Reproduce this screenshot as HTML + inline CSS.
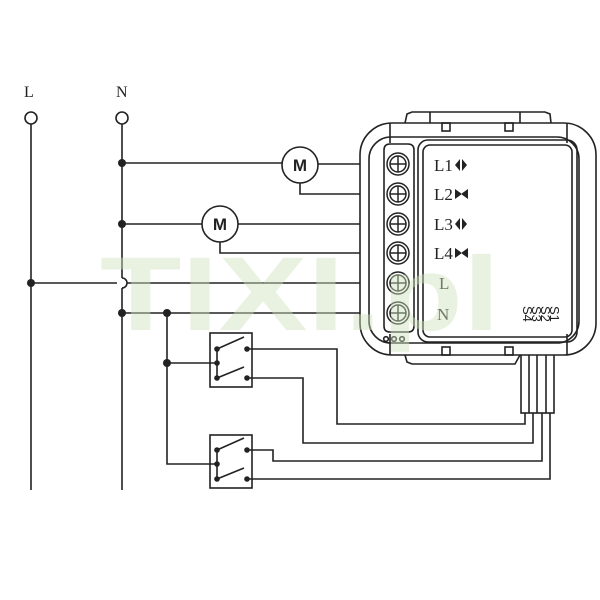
<!DOCTYPE html>
<html><head><meta charset="utf-8"><style>
html,body{margin:0;padding:0;background:#fff;}
svg{display:block;}
text{font-family:"Liberation Serif",serif;fill:#222;}
</style></head><body>
<svg width="600" height="600" viewBox="0 0 600 600" xmlns="http://www.w3.org/2000/svg">
<rect width="600" height="600" fill="#fff"/>
<g stroke="#222" stroke-width="1.6" fill="none">
<!-- L and N -->
<circle cx="31" cy="118" r="6" fill="#fff"/>
<circle cx="122" cy="118" r="6" fill="#fff"/>
<line x1="31" y1="124" x2="31" y2="490"/>
<line x1="122" y1="124" x2="122" y2="278"/>
<path d="M122 278 A5 5 0 0 1 122 288"/>
<line x1="122" y1="288" x2="122" y2="490"/>
<!-- motor wires -->
<line x1="122" y1="163" x2="282" y2="163"/>
<line x1="318" y1="164" x2="396" y2="164"/>
<polyline points="300,183 300,194 396,194"/>
<line x1="122" y1="224" x2="202" y2="224"/>
<line x1="238" y1="224" x2="396" y2="224"/>
<polyline points="220,242 220,253 396,253"/>
<line x1="31" y1="283" x2="117" y2="283"/>
<line x1="127" y1="283" x2="396" y2="283"/>
<line x1="122" y1="313" x2="396" y2="313"/>
<!-- switch common -->
<polyline points="167,313 167,464 217,464"/>
<line x1="167" y1="363" x2="217" y2="363"/>
<!-- switch boxes -->
<rect x="210" y="333" width="42" height="54"/>
<rect x="210" y="435" width="42" height="53"/>
<line x1="217" y1="349" x2="217" y2="378"/>
<line x1="217" y1="349" x2="244" y2="337"/>
<line x1="217" y1="378" x2="244" y2="367"/>
<line x1="217" y1="450" x2="217" y2="479"/>
<line x1="217" y1="450" x2="244" y2="438"/>
<line x1="217" y1="479" x2="244" y2="468"/>
<!-- switch outputs -->
<polyline points="247,349 337,349 337,424 525,424 525,413"/>
<polyline points="247,378 303,378 303,443 533,443 533,413"/>
<polyline points="247,450 273,450 273,461 542,461 542,413"/>
<polyline points="247,479 550,479 550,413"/>
<!-- cable -->
<rect x="521" y="353" width="33" height="60" fill="#fff"/>
<line x1="529" y1="353" x2="529" y2="413"/>
<line x1="537" y1="353" x2="537" y2="413"/>
<line x1="546" y1="353" x2="546" y2="413"/>
<!-- device -->
<path d="M405 123 L407 114 L412 112 L545 112 L550 114 L551 123" fill="#fff"/>
<line x1="430" y1="112" x2="430" y2="123"/><line x1="520" y1="112" x2="520" y2="123"/>
<path d="M405 355 L407 362 L412 364 L515 364 L520 355" fill="#fff"/>
<rect x="360" y="123" width="236" height="232" rx="32" fill="#fff"/>
<line x1="390" y1="123" x2="390" y2="143"/>
<line x1="567" y1="123" x2="567" y2="143"/>
<line x1="390" y1="334" x2="390" y2="355"/>
<line x1="567" y1="334" x2="567" y2="355"/>
<rect x="442" y="123" width="8" height="8"/><rect x="505" y="123" width="8" height="8"/>
<rect x="442" y="347" width="8" height="8"/><rect x="505" y="347" width="8" height="8"/>
<rect x="369" y="137" width="210" height="206" rx="22"/>
<rect x="418" y="140" width="159" height="202" rx="10"/>
<rect x="423" y="145" width="149" height="192" rx="7"/>
<!-- terminal strip -->
<path d="M384 150 Q384 144 390 144 L408 144 Q414 144 414 150 L414 326 Q414 332 408 332 L390 332 Q384 332 384 326 Z"/>
<circle cx="386" cy="339" r="2.3"/><circle cx="394" cy="339" r="2.3"/><circle cx="402" cy="339" r="2.3"/>
</g>
<!-- terminals -->
<g stroke="#222" fill="#fff" stroke-width="1.5">
<g id="t"><circle cx="398" cy="164" r="11"/><circle cx="398" cy="164" r="8"/><line x1="390" y1="164" x2="406" y2="164"/><line x1="398" y1="156" x2="398" y2="172"/></g>
<use href="#t" y="30"/><use href="#t" y="60"/><use href="#t" y="89"/><use href="#t" y="119"/><use href="#t" y="149"/>
</g>
<!-- motors -->
<g stroke="#222" stroke-width="1.6" fill="#fff">
<circle cx="300" cy="165" r="18"/><circle cx="220" cy="224" r="18"/>
</g>
<g font-weight="bold" font-size="17" text-anchor="middle">
<text x="300" y="171" style="font-family:'Liberation Sans',sans-serif">M</text>
<text x="220" y="230" style="font-family:'Liberation Sans',sans-serif">M</text>
</g>
<!-- dots -->
<g fill="#222">
<circle cx="122" cy="163" r="4"/><circle cx="122" cy="224" r="4"/><circle cx="122" cy="313" r="4"/>
<circle cx="31" cy="283" r="4"/><circle cx="167" cy="313" r="4"/><circle cx="167" cy="363" r="4"/>
<circle cx="217" cy="349" r="2.8"/><circle cx="217" cy="363" r="2.8"/><circle cx="217" cy="378" r="2.8"/>
<circle cx="247" cy="349" r="2.8"/><circle cx="247" cy="378" r="2.8"/>
<circle cx="217" cy="450" r="2.8"/><circle cx="217" cy="464" r="2.8"/><circle cx="217" cy="479" r="2.8"/>
<circle cx="247" cy="450" r="2.8"/><circle cx="247" cy="479" r="2.8"/>
<!-- arrows -->
<path d="M455 165 L460 159 L460 171 Z M467 165 L462 159 L462 171 Z"/>
<path d="M455 189 L462 194 L455 199 Z M468 189 L461 194 L468 199 Z"/>
<path d="M455 224 L460 218 L460 230 Z M467 224 L462 218 L462 230 Z"/>
<path d="M455 248 L462 253 L455 258 Z M468 248 L461 253 L468 258 Z"/>
</g>
<!-- labels -->
<g font-size="17">
<text x="24" y="97" font-size="16">L</text><text x="116" y="97" font-size="16">N</text>
<text x="434" y="171">L1</text><text x="434" y="200">L2</text>
<text x="434" y="230">L3</text><text x="434" y="259">L4</text>
<text x="439" y="289">L</text><text x="437" y="320">N</text>
</g>
<g font-size="13">
<text transform="translate(550,306) rotate(90)" style="font-family:'Liberation Sans',sans-serif">S1</text>
<text transform="translate(541,306) rotate(90)" style="font-family:'Liberation Sans',sans-serif">S2</text>
<text transform="translate(532,306) rotate(90)" style="font-family:'Liberation Sans',sans-serif">S3</text>
<text transform="translate(523,306) rotate(90)" style="font-family:'Liberation Sans',sans-serif">S4</text>
</g>
<!-- watermark -->
<text x="100" y="330" font-size="105" textLength="400" lengthAdjust="spacingAndGlyphs" style="font-family:'Liberation Sans',sans-serif;font-weight:bold;fill:#cfe3bd;opacity:0.45">TIXI.pl</text>
</svg>
</body></html>
